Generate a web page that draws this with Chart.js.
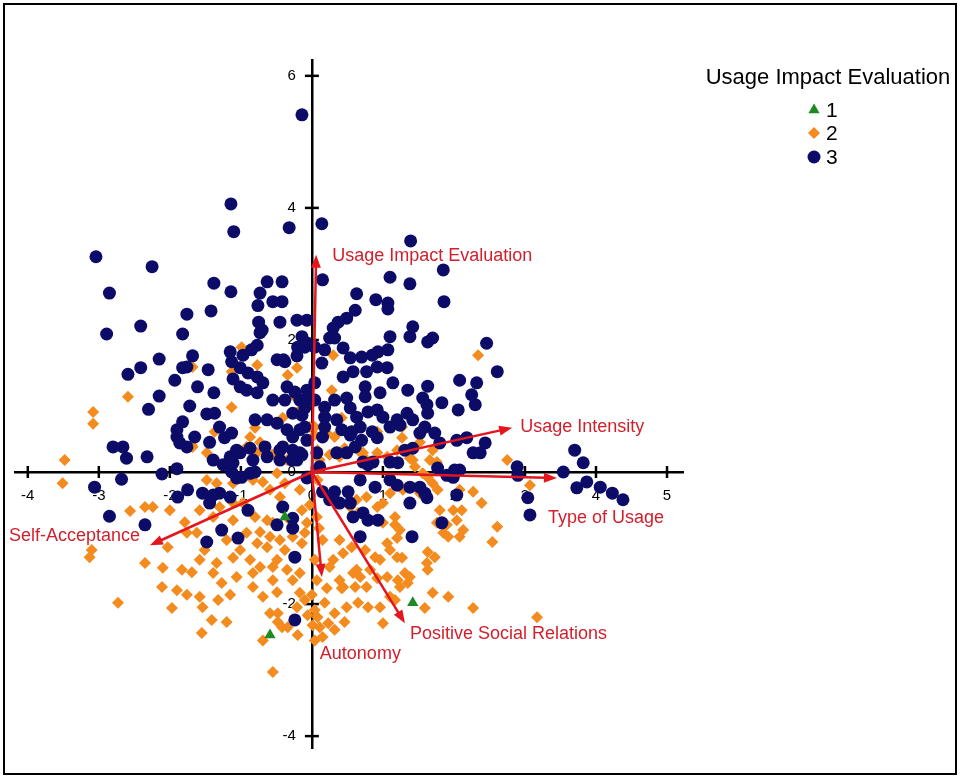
<!DOCTYPE html>
<html>
<head>
<meta charset="utf-8">
<script src="https://cdn.jsdelivr.net/npm/chart.js@4.4.1/dist/chart.umd.min.js"></script>
<style>
  html, body { margin: 0; padding: 0; background: #fff; }
  canvas { display: block; }
</style>
</head>
<body>
<canvas id="biplot" width="960" height="777" style="width:960px;height:777px"></canvas>
<script>
// Group labels for "Usage Impact Evaluation"
const groupLabels = ['1', '2', '3'];

// Object scores, group 1
const group1Points = [[-0.38,-0.68],[-0.59,-2.47],[1.42,-1.98]];

// Object scores, group 2
const group2Points = [
[-3.48,0.18],[-3.51,-0.17],[-3.10,-1.18],[-3.13,-1.29],[-2.73,-1.98],[-2.56,-0.59],[-2.35,-0.53],[-2.24,-0.53],[-2.00,-0.58],[-2.03,-1.14],
[-2.35,-1.38],[-2.10,-1.45],[-1.83,-1.48],[-1.69,-1.52],[-2.11,-1.74],[-1.97,-2.06],[-1.90,-1.79],[-1.76,-1.86],[-1.58,-1.89],[-1.55,-2.44],
[-1.41,-2.24],[-1.20,-2.27],[-1.54,-2.05],[-1.32,-1.94],[-1.15,-1.86],[-1.27,-1.68],[-1.39,-1.53],[-1.58,-1.33],[-1.51,-1.18],[-1.34,-1.38],
[-1.11,-1.30],[-1.06,-1.59],[-0.83,-1.53],[-0.73,-1.44],[-0.55,-1.64],[-0.83,-1.74],[-0.69,-1.89],[-0.48,-2.14],[-0.34,-2.35],[-0.20,-2.47],
[-0.69,-2.55],[-1.79,-0.76],[-1.76,-0.92],[-1.62,-0.92],[-1.58,-0.58],[-1.39,-0.68],[-1.11,-0.73],[-1.20,-1.03],[-1.01,-1.18],[-0.77,-1.08],
[-0.73,-0.91],[-0.63,-0.73],[-0.59,-0.98],[-0.45,-1.03],[-0.38,-1.18],[-0.49,-1.33],[-0.35,-1.48],[-0.27,-1.64],[-0.17,-1.53],[-0.14,-1.08],
[-0.27,-0.98],[-0.10,-0.92],[-0.45,-0.38],[-0.38,-0.17],[-0.59,-0.27],[-0.69,-0.15],[-0.83,-0.12],[-0.49,-0.02],[-1.11,-0.17],[-1.34,-0.17],
[-1.48,-0.12],[-1.68,0.38],[-1.48,0.29],[-0.92,0.38],[-0.77,0.29],[-0.69,0.33],[-0.45,0.29],[-0.35,0.18],[-0.17,0.23],[-1.30,-0.53],
[-1.11,-0.47],[-0.97,-0.47],[-0.80,-0.68],[-0.55,-0.77],[-0.92,-0.92],[-0.63,-1.14],[-0.87,-1.33],[-0.55,-1.44],[-0.49,-1.82],[-0.17,-1.83],
[-0.21,-2.05],[-0.07,-0.77],[-0.14,-0.58],[-0.48,-2.27],[-0.59,-2.14],
[0.08,0.33],[0.11,0.18],[0.25,0.26],[0.39,0.23],[0.51,0.30],[0.68,0.30],[0.75,0.21],[0.92,0.29],[1.06,0.23],[1.20,0.33],
[1.38,0.21],[1.66,0.18],[1.76,0.11],[1.45,0.08],[1.56,-0.02],[1.63,-0.08],[1.70,-0.17],[1.77,-0.27],[1.52,-0.32],[1.28,-0.27],
[1.10,-0.32],[1.00,-0.47],[0.92,-0.53],[0.77,-0.38],[0.63,-0.42],[0.54,-0.53],[0.65,-0.62],[1.00,-0.77],[1.17,-0.68],[1.17,-0.80],
[1.24,-0.88],[1.20,-1.00],[1.06,-1.08],[1.10,-1.18],[0.89,-1.29],[0.96,-1.33],[0.75,-1.18],[0.56,-1.14],[0.39,-1.03],[0.44,-1.23],
[0.30,-1.33],[0.25,-1.44],[0.39,-1.64],[0.44,-1.74],[0.61,-1.74],[0.77,-1.74],[0.58,-1.53],[0.68,-1.59],[0.82,-1.48],[0.92,-1.61],
[1.06,-1.59],[1.20,-1.29],[1.27,-1.30],[1.31,-1.53],[1.38,-1.59],[1.21,-1.64],[1.24,-1.74],[1.10,-1.89],[1.00,-2.29],[0.96,-2.05],
[1.35,-1.68],[1.63,-1.48],[1.73,-1.29],[1.63,-1.21],[1.62,-1.38],[1.70,-1.83],[1.92,-1.89],[1.59,-2.06],[2.27,-2.06],[3.17,-2.20],
[1.92,-0.98],[2.08,-0.98],[2.04,-0.73],[2.13,-0.88],[1.99,-0.58],[2.11,-0.58],[2.27,-0.30],[2.39,-0.47],[2.08,-0.27],[2.61,-0.83],
[2.54,-1.06],[1.90,-0.80],[1.85,-0.92],[1.80,-0.58],[1.76,-0.77],[2.75,0.18],[3.07,-0.20],
[0.07,-1.64],[0.21,-1.76],[0.42,-1.76],[0.63,-1.48],[0.49,-2.05],[0.65,-1.98],[0.32,-2.14],[0.18,-1.98],[0.08,-2.20],[0.23,-2.29],
[0.11,-2.35],[0.15,-2.50],[0.04,-2.55],[0.79,-2.05],[1.17,-1.94],[0.00,-1.86],[0.04,-2.09],[0.32,-2.39],[0.46,-2.27],[0.01,-2.32],
[-0.06,-2.17],[-0.10,-1.94],[0.07,-0.68],[0.15,-1.03],[0.04,-1.33],[0.10,-0.85],
[-1.68,1.59],[-1.13,1.52],[-0.77,1.62],[-0.21,1.58],[-0.34,1.47],[-0.24,1.14],[-1.13,0.98],[-0.41,0.82],[-0.80,0.67],[-0.87,0.53],
[-0.73,0.45],[-1.69,0.41],[-1.37,0.61],[-0.03,0.68],[-0.20,0.91],[-0.56,0.26],[-0.99,1.89],[-2.59,1.14],[-3.08,0.91],[-3.08,0.73],
[0.30,1.77],[0.28,1.24],[0.42,0.82],[0.32,0.53],[0.92,0.61],[1.27,0.68],[1.27,0.52],[1.52,0.45],[1.70,0.33],[1.76,0.15],
[1.42,0.18],[0.72,0.29],[0.46,0.36],[2.34,1.77],[0.04,0.68],[0.04,0.56],[0.21,0.59],
[-0.55,-3.03],[-0.42,-2.35],[0.08,-0.12],[-0.17,-0.27],[-0.03,-0.50],[-0.31,-0.73]
];

// Object scores, group 3
const group3Points = [
[-0.14,5.41],[-1.14,4.06],[-1.10,3.64],[-0.32,3.70],[0.14,3.76],[1.39,3.50],[1.85,3.06],[-3.04,3.26],[-2.25,3.11],[-2.85,2.71],
[-1.38,2.86],[-1.14,2.73],[-1.76,2.39],[-1.42,2.44],[-2.89,2.09],[-2.41,2.21],[-1.82,2.09],[-0.63,2.88],[-0.42,2.88],[-0.73,2.71],
[-0.76,2.52],[-0.55,2.58],[-0.42,2.58],[-0.75,2.27],[-0.45,2.27],[-0.21,2.30],[-0.07,2.30],[-0.73,2.11],[-0.77,1.92],[-0.85,1.85],
[-1.15,1.82],[-1.68,1.76],[-2.15,1.71],[-2.41,1.58],[-2.59,1.48],[-1.76,1.59],[-1.46,1.55],[-1.93,1.39],[-1.61,1.29],[-1.38,1.20],
[-2.15,1.15],[-2.30,0.95],[-1.72,1.00],[-1.48,0.88],[-1.37,0.89],[-1.82,0.76],[-1.30,0.68],[-1.01,1.58],[-0.90,1.50],[-1.11,1.41],
[-1.01,1.29],[-0.77,1.44],[-0.69,1.35],[-0.77,1.20],[-0.92,1.24],[-0.49,1.70],[-0.40,1.70],[-0.21,1.76],[-0.35,1.29],[-0.38,1.09],
[-0.55,1.09],[-0.27,0.89],[-0.14,2.05],[-0.20,1.89],[-0.10,1.89],[-0.07,1.24],[-0.07,1.09],[-2.80,0.38],[-2.66,0.38],[-2.61,0.21],
[-2.32,0.23],[-1.90,0.53],[-1.86,0.44],[-1.76,0.38],[-1.44,0.45],[-1.39,0.18],[-1.15,0.23],[-1.01,0.29],[-0.83,0.18],[-0.63,0.23],
[-0.41,0.38],[-0.27,0.33],[-0.17,0.29],[-0.63,0.79],[-0.49,0.74],[-0.35,0.64],[-0.27,0.53],[-0.17,0.64],[-0.07,0.48],[-3.06,-0.23],
[-2.68,-0.11],[-2.85,-0.67],[-2.35,-0.80],[-2.11,-0.03],[-1.90,0.05],[-1.89,-0.38],[-1.75,-0.27],[-1.54,-0.32],[-1.39,-0.35],[-1.30,-0.32],
[-1.15,-0.38],[-1.44,-0.47],[-1.06,-0.09],[-0.87,-0.02],[-0.90,-0.58],[-1.27,-0.88],[-1.48,-1.06],[-1.04,-1.00],[-0.41,-0.53],[-0.27,-0.70],
[-0.27,-0.85],[-0.49,-0.80],[-0.24,-1.29],[-0.24,-2.24],[-1.11,0.14],[-0.45,0.33],[-0.21,0.18],[-0.07,-0.09],[0.63,2.70],[0.90,2.61],
[1.07,2.56],[1.07,2.47],[1.38,2.85],[1.86,2.58],[0.61,2.45],[0.49,2.33],[0.37,2.27],[0.30,2.18],[0.25,2.03],[0.18,1.85],
[0.14,1.65],[0.32,2.03],[0.44,1.88],[0.54,1.73],[0.70,1.74],[0.85,1.77],[0.93,1.82],[1.07,1.85],[1.10,2.05],[1.38,2.05],
[1.42,2.20],[1.63,1.97],[1.70,2.03],[2.46,1.95],[2.61,1.52],[2.08,1.39],[2.32,1.35],[2.25,1.17],[2.30,1.02],[2.06,0.94],
[1.83,1.05],[1.63,1.30],[1.56,1.12],[1.62,1.02],[1.63,0.89],[1.35,1.24],[1.14,1.35],[0.96,1.20],[1.06,1.58],[0.92,1.59],
[0.77,1.52],[0.58,1.52],[0.44,1.44],[0.75,1.29],[0.75,1.14],[0.79,0.91],[0.49,1.12],[0.54,0.97],[0.63,0.83],[0.68,0.68],
[0.18,0.98],[0.18,0.83],[0.18,0.68],[0.15,0.53],[0.32,1.09],[0.35,0.79],[0.42,0.64],[0.54,0.56],[0.92,0.94],[1.00,0.83],
[0.92,0.52],[1.10,0.68],[1.20,0.79],[1.34,0.89],[1.24,0.71],[1.42,0.79],[1.52,0.59],[1.59,0.68],[1.73,0.59],[1.80,0.44],
[2.04,0.48],[2.18,0.52],[2.44,0.44],[2.37,0.29],[2.08,0.03],[1.31,0.33],[1.42,0.36],[1.10,0.15],[1.21,0.14],[0.35,0.29],
[0.49,0.29],[0.61,0.38],[0.72,0.15],[0.86,0.15],[0.07,0.29],[0.11,0.08],[0.04,1.09],[0.04,1.89],[0.04,1.35],[0.15,2.91],
[0.70,0.48],[0.85,0.61],[0.56,0.61],[3.70,0.33],[3.82,0.14],[3.54,0.00],[3.73,-0.24],[3.87,-0.15],[4.06,-0.23],[4.23,-0.32],
[4.38,-0.42],[3.04,-0.39],[3.07,-0.65],[2.89,0.08],[2.90,-0.05],[2.27,0.29],[2.01,0.03],[1.99,-0.08],[1.77,0.06],[1.90,-0.05],
[1.83,-0.77],[1.41,-0.98],[2.04,-0.35],[0.79,0.11],[1.10,-0.12],[1.20,-0.20],[1.38,-0.23],[1.52,-0.23],[1.59,-0.32],[1.38,-0.47],
[1.62,-0.39],[0.68,-0.98],[0.58,-0.68],[0.72,-0.62],[0.79,-0.73],[0.93,-0.73],[0.54,-0.47],[0.39,-0.47],[0.25,-0.42],[0.15,-0.30],
[0.32,-0.30],[0.51,-0.30],[0.68,-0.12],[0.89,-0.23],[1.10,2.95],
[-0.70,2.15],[-0.06,1.95],[-1.13,1.67],[-0.97,1.77],[-0.38,1.67],[-1.82,1.58],[-0.24,1.21],[-0.17,1.09],[-0.10,0.97],[-0.14,0.86],
[-0.10,0.68],[-0.80,0.79],[-1.06,0.33],[-0.87,0.36],[-0.66,0.38],[-0.14,0.26],[-0.28,0.18],[-0.45,0.18],[-1.25,0.11],[-1.13,0.00],
[-0.99,-0.08],[-0.80,0.00],[-1.23,0.52],[-1.13,0.59],[-1.65,0.53],[-1.90,0.64]
];

// Variable loadings (arrow tips)
const loadingNames = ['Usage Impact Evaluation', 'Usage Intensity', 'Type of Usage', 'Self-Acceptance', 'Autonomy', 'Positive Social Relations'];
const loadingX = [0.06, 2.82, 3.45, -2.28, 0.14, 1.31];
const loadingY = [3.29, 0.67, -0.09, -1.11, -1.59, -2.29];

// Axis ticks
const xTicks = [-4, -3, -2, -1, 0, 1, 2, 3, 4, 5];
const yTicks = [-4, -2, 0, 2, 4, 6];

const legendTitle = 'Usage Impact Evaluation';

const FONT = "'Liberation Sans', Arial, Helvetica, sans-serif";
const ARROW_COLOR = '#e3161d';
const ARROW_TEXT = '#d21f2b';

const toXY = pts => pts.map(p => ({ x: p[0], y: p[1] }));

// Where each arrow's label sits relative to its tip (pixels)
const labelPlacement = {
  'Usage Impact Evaluation':   { dx: 16, dy: 1,  align: 'left' },
  'Usage Intensity':           { dx: 8,  dy: -1, align: 'left' },
  'Type of Usage':             { dx: -9, dy: 40, align: 'left' },
  'Self-Acceptance':           { dx: -10, dy: -9, align: 'right' },
  'Autonomy':                  { dx: -2, dy: 77, align: 'left' },
  'Positive Social Relations': { dx: 5,  dy: 11, align: 'left' }
};

function drawArrow(ctx, x0, y0, x1, y1) {
  const a = Math.atan2(y1 - y0, x1 - x0);
  const L = 13, W = 5;
  const bx = x1 - L * Math.cos(a), by = y1 - L * Math.sin(a);
  ctx.beginPath();
  ctx.moveTo(x0, y0);
  ctx.lineTo(bx + 2 * Math.cos(a), by + 2 * Math.sin(a));
  ctx.stroke();
  ctx.beginPath();
  ctx.moveTo(x1, y1);
  ctx.lineTo(bx + W * Math.sin(a), by - W * Math.cos(a));
  ctx.lineTo(bx - W * Math.sin(a), by + W * Math.cos(a));
  ctx.closePath();
  ctx.fill();
}

const biplotDecor = {
  id: 'biplotDecor',
  beforeDraw(chart) {
    const ctx = chart.ctx;
    ctx.save();
    ctx.fillStyle = '#fff';
    ctx.fillRect(0, 0, chart.width, chart.height);
    ctx.strokeStyle = '#000';
    ctx.lineWidth = 2;
    ctx.strokeRect(4, 4, 952, 770);
    ctx.restore();
  },
  beforeDatasetsDraw(chart) {
    // cross-shaped tick marks on both axes, and the vertical axis labels
    const { ctx, scales: { x, y } } = chart;
    const x0 = x.getPixelForValue(0), y0 = y.getPixelForValue(0);
    ctx.save();
    ctx.strokeStyle = '#000';
    ctx.lineWidth = 2.5;
    xTicks.forEach(v => {
      const px = x.getPixelForValue(v);
      ctx.beginPath(); ctx.moveTo(px, y0 - 6); ctx.lineTo(px, y0 + 6); ctx.stroke();
    });
    yTicks.forEach(v => {
      const py = y.getPixelForValue(v);
      ctx.beginPath(); ctx.moveTo(x0 - 7, py); ctx.lineTo(x0 + 7, py); ctx.stroke();
    });
    ctx.fillStyle = '#000';
    ctx.font = '15px ' + FONT;
    ctx.textAlign = 'right';
    ctx.textBaseline = 'middle';
    yTicks.forEach(v => {
      ctx.fillText(String(v), x0 - 16, y.getPixelForValue(v));
    });
    ctx.restore();
  },
  afterDatasetsDraw(chart) {
    const { ctx, scales: { x, y } } = chart;
    const ox = x.getPixelForValue(0), oy = y.getPixelForValue(0);
    ctx.save();
    ctx.strokeStyle = ARROW_COLOR;
    ctx.fillStyle = ARROW_COLOR;
    ctx.lineWidth = 2.5;
    ctx.lineCap = 'butt';
    loadingNames.forEach((name, i) => {
      const tx = x.getPixelForValue(loadingX[i]);
      const ty = y.getPixelForValue(loadingY[i]);
      drawArrow(ctx, ox, oy, tx, ty);
    });
    ctx.fillStyle = ARROW_TEXT;
    ctx.font = '18px ' + FONT;
    ctx.textBaseline = 'middle';
    loadingNames.forEach((name, i) => {
      const tx = x.getPixelForValue(loadingX[i]);
      const ty = y.getPixelForValue(loadingY[i]);
      const p = labelPlacement[name];
      ctx.textAlign = p.align;
      ctx.fillText(name, tx + p.dx, ty + p.dy);
    });
    ctx.restore();
  },
  afterDraw(chart) {
    // legend block
    const ctx = chart.ctx;
    ctx.save();
    ctx.fillStyle = '#000';
    ctx.textBaseline = 'middle';
    ctx.textAlign = 'center';
    ctx.font = '22px ' + FONT;
    ctx.fillText(legendTitle, 828, 78);
    ctx.textAlign = 'left';
    ctx.font = '21px ' + FONT;
    const rows = [110, 133, 157];
    chart.data.datasets.forEach((ds, i) => {
      const opts = { pointStyle: ds.pointStyle, radius: ds.pointRadius, rotation: 0, borderWidth: 0 };
      ctx.fillStyle = ds.backgroundColor;
      ctx.strokeStyle = ds.backgroundColor;
      Chart.helpers.drawPoint(ctx, opts, 814, rows[i]);
      ctx.fillStyle = '#000';
      ctx.fillText(ds.label, 826, rows[i] + 1);
    });
    ctx.restore();
  }
};

new Chart(document.getElementById('biplot'), {
  type: 'scatter',
  data: {
    datasets: [
      { label: groupLabels[0], data: toXY(group1Points), pointStyle: 'triangle', pointRadius: 6.5,
        backgroundColor: '#1f8a22', borderWidth: 0, order: 0 },
      { label: groupLabels[1], data: toXY(group2Points), pointStyle: 'rectRot', pointRadius: 6,
        backgroundColor: '#f38b1e', borderWidth: 0, order: 2 },
      { label: groupLabels[2], data: toXY(group3Points), pointStyle: 'circle', pointRadius: 6.5,
        backgroundColor: '#0c0c68', borderWidth: 0, order: 1 }
    ]
  },
  options: {
    responsive: false,
    animation: false,
    events: [],
    devicePixelRatio: 1,
    layout: { padding: { left: 15, right: 277, top: 60, bottom: 29 } },
    plugins: { legend: { display: false }, tooltip: { enabled: false } },
    scales: {
      x: {
        type: 'linear', min: -4.18, max: 5.225,
        position: { y: 0 },
        afterBuildTicks: s => { s.ticks = xTicks.map(v => ({ value: v })); },
        grid: { display: false, drawTicks: false },
        border: { display: true, color: '#000', width: 2.5 },
        ticks: { color: '#000', font: { family: FONT, size: 15 }, padding: 15, autoSkip: false, maxRotation: 0,
                 callback: v => String(v) }
      },
      y: {
        type: 'linear', min: -4.18, max: 6.24,
        position: { x: 0 },
        afterBuildTicks: s => { s.ticks = yTicks.map(v => ({ value: v })); },
        grid: { display: false, drawTicks: false },
        border: { display: true, color: '#000', width: 2.5 },
        ticks: { display: false }
      }
    }
  },
  plugins: [biplotDecor]
});
</script>
</body>
</html>
